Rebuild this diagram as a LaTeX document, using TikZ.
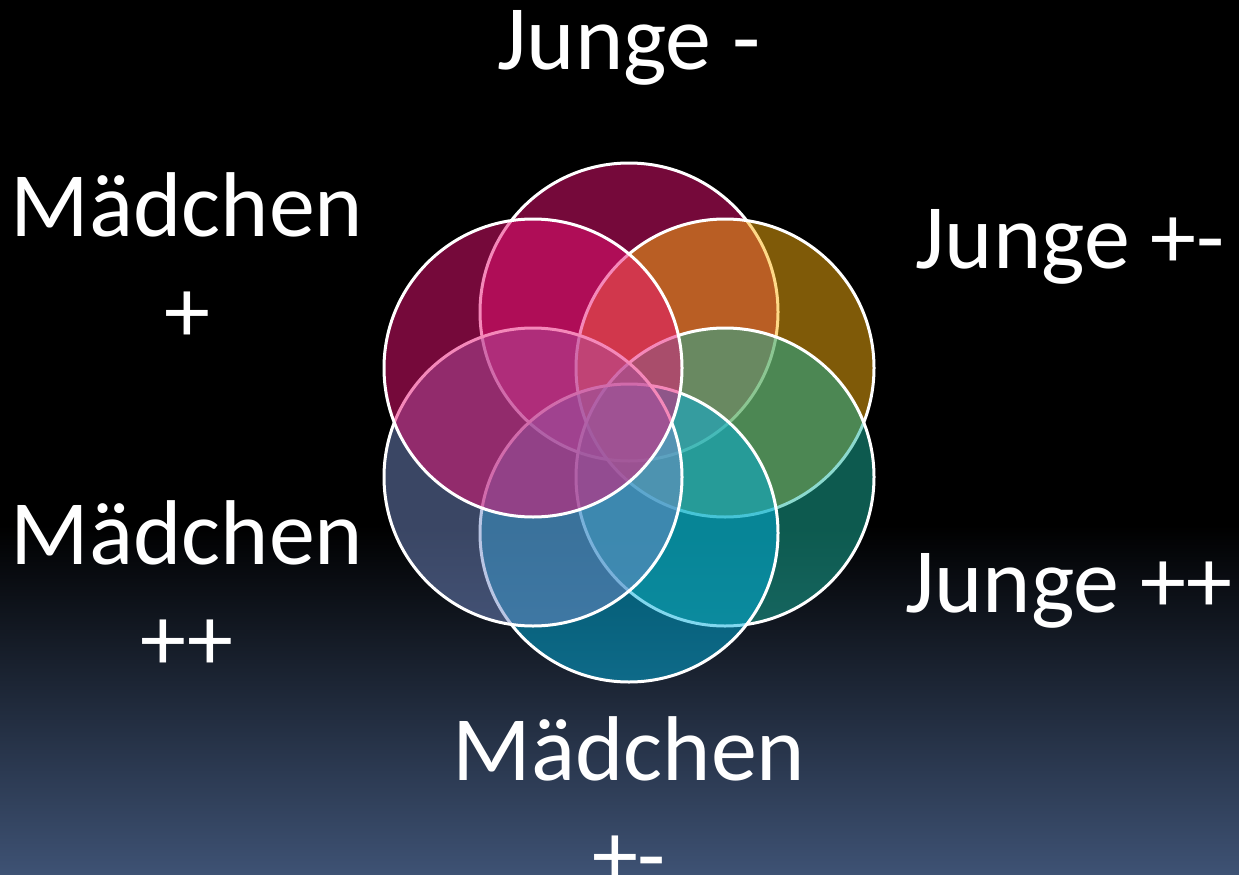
\documentclass[tikz,border=0pt]{standalone}
\usepackage{fontspec}
\setmainfont{Carlito}
\usetikzlibrary{positioning}

\definecolor{bgblue}{RGB}{62,82,116}
\definecolor{ringRose}{RGB}{234,18,117}
\definecolor{ringGold}{RGB}{254,180,16}
\definecolor{ringTeal}{RGB}{26,180,158}
\definecolor{ringCyan}{RGB}{2,176,222}
\definecolor{ringSlate}{RGB}{116,140,200}

\begin{document}
\begin{tikzpicture}[
  x=1pt, y=-1pt,
  every node/.style={font=\fontsize{92}{106}\selectfont, text=white, inner sep=0pt},
  ring/.style={circle, draw=white, line width=3pt, minimum size=298pt,
               inner sep=0pt, fill opacity=0.5},
  lbl/.style={anchor=base},
]
  % ── Background ───────────────────────────────────
  \path[use as bounding box, clip] (0,0) rectangle (1239,875);
  \fill[black] (0,0) rectangle (1239,875);
  \shade[top color=black, bottom color=bgblue] (0,525) rectangle (1239,875);

  % ── Rings (clockwise from top, later ones on top) ─
  \node[ring, fill=ringRose]  (rT)  at (629, 312) {};
  \node[ring, fill=ringGold]  (rUR) at (725, 368) {};
  \node[ring, fill=ringTeal]  (rLR) at (725, 477) {};
  \node[ring, fill=ringCyan]  (rB)  at (629, 533) {};
  \node[ring, fill=ringSlate] (rLL) at (533, 477) {};
  \node[ring, fill=ringRose]  (rUL) at (533, 368) {};

  % ── Labels ───────────────────────────────────────
  \node[lbl] (jm)   at (629,  70) {Junge -};
  \node[lbl] (mp)   at (187, 236) {Mädchen};
  \node[lbl] (mp2)  at (187, 342) {+};
  \node[lbl] (jpm)  at (1070, 268) {Junge +-};
  \node[lbl] (mpp)  at (187, 564) {Mädchen};
  \node[lbl] (mpp2) at (187, 670) {++};
  \node[lbl] (jpp)  at (1069, 612) {Junge ++};
  \node[lbl] (mpm)  at (629, 780) {Mädchen};
  \node[lbl] (mpm2) at (629, 886) {+-};

\end{tikzpicture}
\end{document}
